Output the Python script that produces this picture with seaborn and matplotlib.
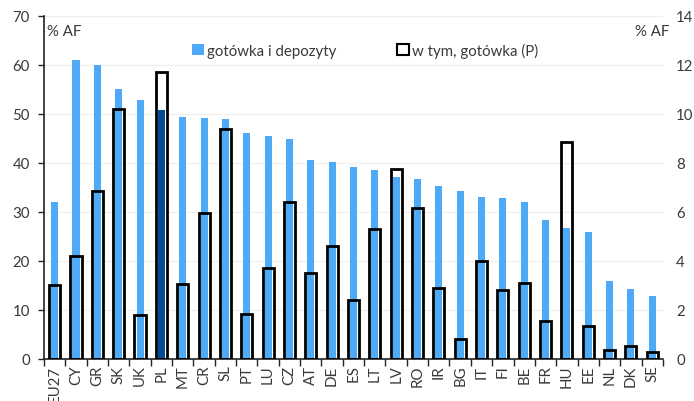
import matplotlib
matplotlib.use("Agg")
import matplotlib.pyplot as plt
import matplotlib.patches as mpatches
import numpy as np
import pandas as pd
import seaborn as sns

# Household financial assets: cash & deposits (left axis) and cash alone (right axis)
countries = ["EU27", "CY", "GR", "SK", "UK", "PL", "MT", "CR", "SL", "PT", "LU", "CZ",
             "AT", "DE", "ES", "LT", "LV", "RO", "IR", "BG", "IT", "FI", "BE", "FR",
             "HU", "EE", "NL", "DK", "SE"]
cash_and_deposits = [32.0, 61.1, 60.0, 55.0, 52.8, 50.9, 49.3, 49.1, 48.9, 46.2, 45.6, 44.8,
                     40.6, 40.2, 39.2, 38.6, 37.2, 36.7, 35.4, 34.3, 33.1, 32.8, 32.1, 28.4,
                     26.8, 25.9, 16.0, 14.3, 12.9]
cash_only = [3.0, 4.2, 6.85, 10.2, 1.8, 11.7, 3.05, 5.95, 9.4, 1.85, 3.7, 6.4,
             3.5, 4.6, 2.4, 5.3, 7.75, 6.15, 2.9, 0.8, 4.0, 2.8, 3.1, 1.55,
             8.85, 1.35, 0.35, 0.55, 0.3]
left_ticks = [0, 10, 20, 30, 40, 50, 60, 70]
right_ticks = [0, 2, 4, 6, 8, 10, 12, 14]
legend_labels = ["gotówka i depozyty", "w tym, gotówka (P)"]
unit_label = "% AF"

LIGHT_BLUE = "#4eaaf7"
DARK_BLUE = "#024c99"
TEXT = "#3a3a3a"
FS = 10.8

sns.set_theme(style="white")
plt.rcParams["font.family"] = ["Lato", "DejaVu Sans"]
plt.rcParams["axes.edgecolor"] = "#222222"

df = pd.DataFrame({"country": countries, "cd": cash_and_deposits, "cash": cash_only})
colors = {c: (DARK_BLUE if c == "PL" else LIGHT_BLUE) for c in countries}

fig = plt.figure(figsize=(6.94, 4.02), dpi=100)
ax = fig.add_axes([0.0634, 0.1045, 0.8918, 0.8533])

sns.barplot(data=df, x="country", y="cd", hue="country", palette=colors,
            width=0.33, legend=False, ax=ax, saturation=1, linewidth=0)
ax.set_ylim(0, 70)
ax.set_yticks(left_ticks)
ax.yaxis.grid(True, color="#f0f0f0", linewidth=1)
ax.set_axisbelow(True)

ax2 = ax.twinx()
sns.barplot(data=df, x="country", y="cash", color="white", width=0.52, ax=ax2,
            saturation=1, fill=False, edgecolor="black", linewidth=2)
for p in ax2.patches:
    p.set_facecolor("none")
    p.set_edgecolor("black")
    p.set_linewidth(2)
ax2.set_ylim(0, 14)
ax2.set_yticks(right_ticks)

n = len(countries)
ax.set_xlim(-0.5, n - 0.5)
ax2.set_xlim(-0.5, n - 0.5)

for a in (ax, ax2):
    a.set_xlabel("")
    a.set_ylabel("")
    for s in ("top", "right"):
        a.spines[s].set_visible(False)
ax2.spines["left"].set_visible(False)
ax2.spines["bottom"].set_visible(False)

ax.spines["left"].set_linewidth(1.2)
ax.spines["bottom"].set_linewidth(1.2)

ax.tick_params(axis="y", left=True, length=4, width=1, direction="out",
               labelsize=FS, labelcolor=TEXT, pad=6)
ax2.tick_params(axis="y", right=False, length=0, labelsize=FS, labelcolor=TEXT, pad=9.5)

# category labels, with separator ticks between categories
ax.set_xticks(range(n))
ax.set_xticklabels(countries, rotation=90, fontsize=FS, color=TEXT)
ax.tick_params(axis="x", which="major", length=0, pad=4)
ax.set_xticks(np.arange(-0.5, n, 1.0), minor=True)
ax.tick_params(axis="x", which="minor", bottom=True, length=5, width=1, color="#222222")

fig.text(0.068, 0.92, unit_label, fontsize=FS, color=TEXT, ha="left", va="center")
fig.text(0.964, 0.92, unit_label, fontsize=FS, color=TEXT, ha="right", va="center")

handles = [mpatches.Patch(facecolor=LIGHT_BLUE, edgecolor="none"),
           mpatches.Patch(facecolor="white", edgecolor="black", linewidth=1.5)]
fig.legend(handles, legend_labels, loc="center", bbox_to_anchor=(0.526, 0.873), ncol=2,
           frameon=False, fontsize=FS, handlelength=0.8, handleheight=0.8,
           handletextpad=0.2, columnspacing=4.1, labelcolor=TEXT)

fig.savefig("out.png", dpi=100)
